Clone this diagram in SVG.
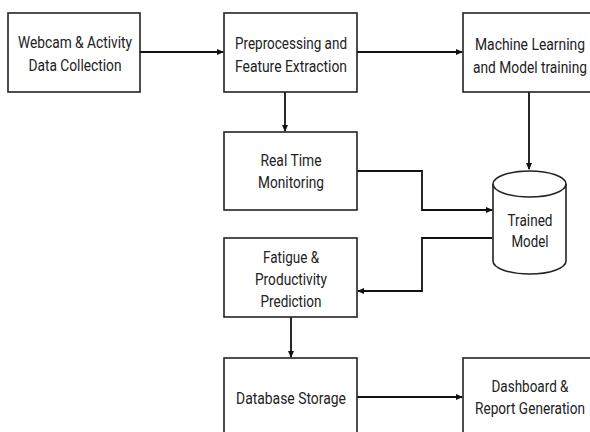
<svg xmlns="http://www.w3.org/2000/svg" width="590" height="432" viewBox="0 0 590 432">
<defs>
<style>
.box{fill:#fff;stroke:#222;stroke-width:1.6}
.t{font-family:Roboto,"Liberation Sans",sans-serif;font-size:17px;fill:#222;text-anchor:middle}
.c{fill:none;stroke:#111;stroke-width:1.8}
</style>
<marker id="ah" markerWidth="7" markerHeight="6" refX="6" refY="3" orient="auto" markerUnits="userSpaceOnUse">
<path d="M0,0 L7,3 L0,6 Z" fill="#111"/>
</marker>
</defs>
<rect width="590" height="432" fill="#fff"/>
<g id="connectors">
<path class="c" d="M140,52 H223" marker-end="url(#ah)"/>
<path class="c" d="M357,52 H462" marker-end="url(#ah)"/>
<path class="c" d="M285,92 V131" marker-end="url(#ah)"/>
<path class="c" d="M529,92 V169" marker-end="url(#ah)"/>
<path class="c" d="M357,171 H422 V210 H492" marker-end="url(#ah)"/>
<path class="c" d="M492,238 H422 V291 H358" marker-end="url(#ah)"/>
<path class="c" d="M291,317 V357" marker-end="url(#ah)"/>
<path class="c" d="M357,397 H462" marker-end="url(#ah)"/>
</g>
<g id="webcam">
<rect class="box" x="8" y="13" width="132" height="79"/>
<text class="t" x="75" y="48" textLength="114" lengthAdjust="spacingAndGlyphs">Webcam &amp; Activity</text>
<text class="t" x="75" y="71" textLength="93" lengthAdjust="spacingAndGlyphs">Data Collection</text>
</g>
<g id="preprocessing">
<rect class="box" x="224" y="13" width="133" height="79"/>
<text class="t" x="291" y="49" textLength="112" lengthAdjust="spacingAndGlyphs">Preprocessing and</text>
<text class="t" x="291" y="72" textLength="112" lengthAdjust="spacingAndGlyphs">Feature Extraction</text>
</g>
<g id="ml">
<rect class="box" x="463" y="13" width="135" height="79"/>
<text class="t" x="530" y="50" textLength="110" lengthAdjust="spacingAndGlyphs">Machine Learning</text>
<text class="t" x="530" y="73" textLength="114" lengthAdjust="spacingAndGlyphs">and Model training</text>
</g>
<g id="realtime">
<rect class="box" x="224" y="132" width="133" height="78"/>
<text class="t" x="291" y="166" textLength="61" lengthAdjust="spacingAndGlyphs">Real Time</text>
<text class="t" x="291" y="188" textLength="66" lengthAdjust="spacingAndGlyphs">Monitoring</text>
</g>
<g id="trained-model">
<path class="box" d="M493,184 V261 A36.5,13 0 0 0 566,261 V184"/>
<ellipse class="box" cx="529.5" cy="184" rx="36.5" ry="13"/>
<text class="t" x="530" y="226" textLength="45" lengthAdjust="spacingAndGlyphs">Trained</text>
<text class="t" x="530" y="247" textLength="37" lengthAdjust="spacingAndGlyphs">Model</text>
</g>
<g id="fatigue">
<rect class="box" x="224" y="238" width="133" height="79"/>
<text class="t" x="291" y="263" textLength="56" lengthAdjust="spacingAndGlyphs">Fatigue &amp;</text>
<text class="t" x="291" y="285" textLength="72" lengthAdjust="spacingAndGlyphs">Productivity</text>
<text class="t" x="291" y="307" textLength="61" lengthAdjust="spacingAndGlyphs">Prediction</text>
</g>
<g id="database">
<rect class="box" x="224" y="358" width="133" height="80"/>
<text class="t" x="291" y="404" textLength="110" lengthAdjust="spacingAndGlyphs">Database Storage</text>
</g>
<g id="dashboard">
<rect class="box" x="463" y="358" width="135" height="80"/>
<text class="t" x="530" y="392" textLength="77" lengthAdjust="spacingAndGlyphs">Dashboard &amp;</text>
<text class="t" x="530" y="414" textLength="110" lengthAdjust="spacingAndGlyphs">Report Generation</text>
</g>
</svg>
